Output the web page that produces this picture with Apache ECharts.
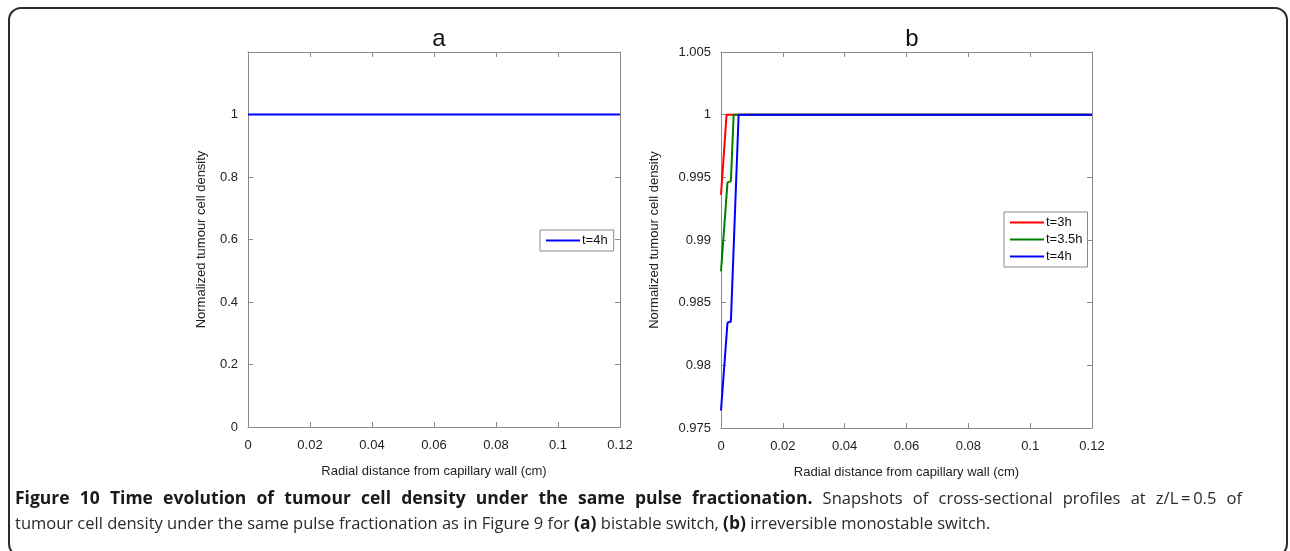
<!DOCTYPE html>
<html><head><meta charset="utf-8">
<script src="https://cdn.jsdelivr.net/npm/echarts@6/dist/echarts.min.js"></script>
<style>html,body{margin:0;padding:0;background:#fff}#c{width:1290px;height:551px}</style>
</head><body><div id="c"></div>
<script>
// ---- data ----
const xTicks = [0, 0.02, 0.04, 0.06, 0.08, 0.1, 0.12];
const panelTitles = ['a', 'b'];
const seriesNames = ['t=3h', 't=3.5h', 't=4h'];
// panel a
const xA_4h = [0, 0.12];
const yA_4h = [1, 1];
// panel b
const xB_3h = [0, 0.0018, 0.12];
const yB_3h = [0.9936, 1, 1];
const xB_35h = [0, 0.0021, 0.0032, 0.0041, 0.12];
const yB_35h = [0.9875, 0.9946, 0.9947, 1, 1];
const xB_4h = [0, 0.0021, 0.0032, 0.0057, 0.12];
const yB_4h = [0.9764, 0.9834, 0.9835, 1, 1];
const yLabel = 'Normalized tumour cell density';
const xLabel = 'Radial distance from capillary wall (cm)';
const capBold = 'Figure 10 Time evolution of tumour cell density under the same pulse fractionation.';
const capRest1 = 'Snapshots of cross-sectional profiles at z/L\u2009=\u20090.5 of';
const capLine2 = ['tumour cell density under the same pulse fractionation as in Figure 9 for ', '(a)', ' bistable switch, ', '(b)', ' irreversible monostable switch.'];

const zip = (xs, ys) => xs.map((x, i) => [x, ys[i]]);
const FONT = '"Liberation Sans", Arial, sans-serif';
const AX = '#8a8a8a';
const txt = '#222';

function xAxes(gi) {
  return [{
    type: 'value', gridIndex: gi, min: 0, max: 0.12, interval: 0.02,
    name: xLabel, nameLocation: 'middle', nameGap: 38,
    nameTextStyle: { fontFamily: FONT, fontSize: 13, color: txt },
    axisLine: { show: true, onZero: false, lineStyle: { color: AX, width: 1 } },
    axisTick: { show: true, inside: true, length: 5, lineStyle: { color: AX } },
    axisLabel: { fontFamily: FONT, fontSize: 13, color: txt, margin: 12 },
    splitLine: { show: false }
  }, {
    type: 'value', gridIndex: gi, position: 'top', min: 0, max: 0.12, interval: 0.02,
    axisLine: { show: true, onZero: false, lineStyle: { color: AX, width: 1 } },
    axisTick: { show: true, inside: true, length: 5, lineStyle: { color: AX } },
    axisLabel: { show: false }, splitLine: { show: false }
  }];
}
function yAxes(gi, min, max, interval, gap, fmt) {
  return [{
    type: 'value', gridIndex: gi, min: min, max: max, interval: interval,
    name: yLabel, nameLocation: 'middle', nameGap: gap, nameRotate: 90,
    nameTextStyle: { fontFamily: FONT, fontSize: 13, color: txt },
    axisLine: { show: true, onZero: false, lineStyle: { color: AX, width: 1 } },
    axisTick: { show: true, inside: true, length: 5, lineStyle: { color: AX } },
    axisLabel: { fontFamily: FONT, fontSize: 13, color: txt, margin: 10, formatter: fmt },
    splitLine: { show: false }
  }, {
    type: 'value', gridIndex: gi, position: 'right', min: min, max: max, interval: interval,
    axisLine: { show: true, onZero: false, lineStyle: { color: AX, width: 1 } },
    axisTick: { show: true, inside: true, length: 5, lineStyle: { color: AX } },
    axisLabel: { show: false }, splitLine: { show: false }
  }];
}

const chart = echarts.init(document.getElementById('c'), null, { renderer: 'canvas' });
const line = (name, data, color, xi, yi) => ({
  type: 'line', name: name, data: data, xAxisIndex: xi, yAxisIndex: yi,
  showSymbol: false, symbol: 'none', animation: false,
  lineStyle: { color: color, width: 2 }, itemStyle: { color: color }
});

// caption: first line justified to the frame width (as in the source layout)
const CAPF = 16.5, CAPFB = 17.5;
const CAPFAM = '"Open Sans", sans-serif';
const mctx = document.createElement('canvas').getContext('2d');
function measure(t, bold) { mctx.font = (bold ? 'bold ' + CAPFB : CAPF) + 'px ' + CAPFAM; return mctx.measureText(t).width; }
const words1 = capBold.split(' ').map(w => [w, true]).concat(capRest1.split(' ').map(w => [w, false]));
const target1 = 1227;
const wordsW = words1.reduce((s, w) => s + measure(w[0], w[1]), 0);
const gapW = (target1 - wordsW) / (words1.length - 1);
const line1Text = words1.map(w => '{' + (w[1] ? 'b' : 'n') + '|' + w[0] + '}').join('{g| }');
const capRich = {
  b: { fontFamily: CAPFAM, fontSize: CAPFB, fontWeight: 'bold', fill: '#1a1a1a', lineHeight: 22 },
  n: { fontFamily: CAPFAM, fontSize: CAPF, fill: '#2a2a2a', lineHeight: 22 },
  g: { fontFamily: CAPFAM, fontSize: CAPF, width: gapW, lineHeight: 22 }
};

chart.setOption({
  animation: false,
  backgroundColor: '#fff',
  title: [
    { text: panelTitles[0], left: 434, top: 22, textAlign: 'center', textStyle: { fontFamily: FONT, fontSize: 24, fontWeight: 'normal', color: '#111' } },
    { text: panelTitles[1], left: 907, top: 22, textAlign: 'center', textStyle: { fontFamily: FONT, fontSize: 24, fontWeight: 'normal', color: '#111' } }
  ],
  grid: [
    { left: 248, right: 670, top: 52, bottom: 124, show: false },
    { left: 721, right: 198, top: 52, bottom: 123, show: false }
  ],
  xAxis: [...xAxes(0), ...xAxes(1)],
  yAxis: [
    ...yAxes(0, 0, 1.2, 0.2, 40, v => (v > 1.1 ? '' : String(+v.toFixed(2)))),
    ...yAxes(1, 0.975, 1.005, 0.005, 60, v => String(+v.toFixed(3)))
  ],
  legend: [
    { data: [seriesNames[2]], left: 540, top: 230, orient: 'vertical', icon: 'rect', itemWidth: 34, itemHeight: 2, itemGap: 4,
      backgroundColor: '#fff', borderColor: '#8a8a8a', borderWidth: 1, padding: [4, 6, 4, 6], borderRadius: 0,
      textStyle: { fontFamily: FONT, fontSize: 13, color: '#111', padding: [0, 0, 0, -3] }, selectedMode: false },
    { data: seriesNames, left: 1004, top: 212, orient: 'vertical', icon: 'rect', itemWidth: 34, itemHeight: 2, itemGap: 4,
      backgroundColor: '#fff', borderColor: '#8a8a8a', borderWidth: 1, padding: [4, 5, 4, 6], borderRadius: 0,
      textStyle: { fontFamily: FONT, fontSize: 13, color: '#111', padding: [0, 0, 0, -3] }, selectedMode: false }
  ],
  series: [
    line(seriesNames[2], zip(xA_4h, yA_4h), '#0000ff', 0, 0),
    line(seriesNames[0], zip(xB_3h, yB_3h), '#ff0000', 2, 2),
    line(seriesNames[1], zip(xB_35h, yB_35h), '#008000', 2, 2),
    line(seriesNames[2], zip(xB_4h, yB_4h), '#0000ff', 2, 2)
  ],
  graphic: [
    { type: 'rect', shape: { x: 9, y: 8, width: 1278, height: 548, r: 12 }, style: { fill: 'none', stroke: '#2a2a2a', lineWidth: 2 }, silent: true },
    { type: 'text', left: 15, top: 490, style: { text: line1Text, rich: capRich } },
    { type: 'text', left: 15, top: 515, style: {
        text: '{n|' + capLine2[0] + '}{b|' + capLine2[1] + '}{n|' + capLine2[2] + '}{b|' + capLine2[3] + '}{n|' + capLine2[4] + '}',
        rich: capRich } }
  ]
});
</script></body></html>
